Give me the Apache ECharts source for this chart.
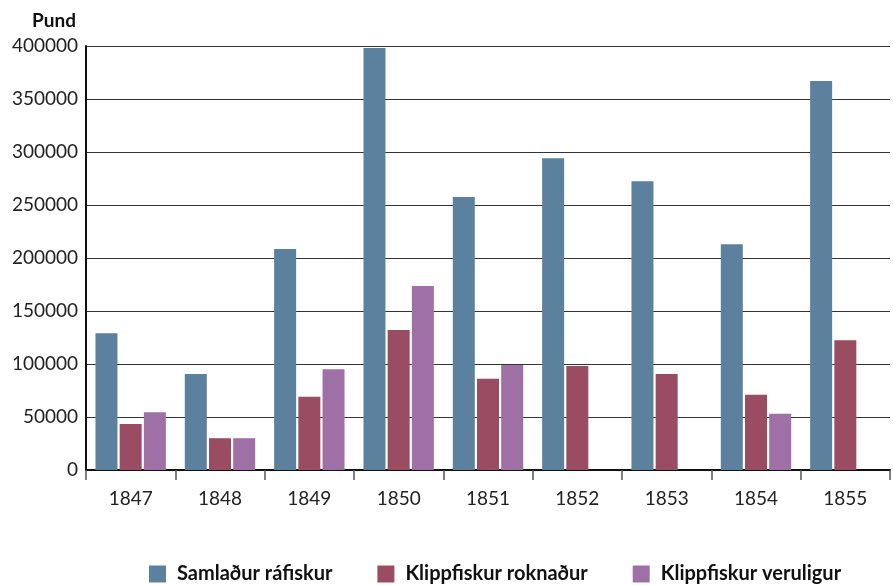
<!DOCTYPE html>
<html>
<head>
<meta charset="utf-8">
<script src="https://cdn.jsdelivr.net/npm/echarts@6/dist/echarts.min.js"></script>
<style>
  html, body { margin: 0; padding: 0; background: #fff; }
  #chart { width: 893px; height: 585px; }
</style>
</head>
<body>
<div id="chart"></div>
<script>
// ár
const years = ['1847', '1848', '1849', '1850', '1851', '1852', '1853', '1854', '1855']
// pund
const samladur = [129000, 90500, 208500, 398000, 257500, 294000, 272500, 213000, 367000]
const roknadur = [43500, 30000, 69000, 132000, 86000, 98000, 90500, 71000, 122500]
const veruligur = [54500, 30000, 95000, 173500, 99000, 0, 0, 53000, 0]
const seriesNames = ['Samlaður ráfiskur', 'Klippfiskur roknaður', 'Klippfiskur veruligur']
const colors = ['#5c819e', '#994c62', '#9f70a5']

const font = 'Lato, "Open Sans", sans-serif'
const chart = echarts.init(document.getElementById('chart'))

chart.setOption({
  animation: false,
  textStyle: {fontFamily: font},
  color: colors,
  grid: {left: 86, right: 3, top: 46, bottom: 115, containLabel: false},
  legend: {
    top: 559,
    left: 144,
    itemWidth: 17,
    itemHeight: 17,
    itemGap: 45,
    icon: 'rect',
    textStyle: {fontSize: 20, fontWeight: 'bold', color: '#111', fontFamily: font, padding: [0, 0, 0, 6]},
    data: seriesNames
  },
  xAxis: {
    type: 'category',
    data: years,
    axisLine: {lineStyle: {color: '#111', width: 2}},
    axisTick: {show: true, length: 10, lineStyle: {color: '#555', width: 1.5}},
    axisLabel: {fontSize: 19, color: '#222', margin: 19}
  },
  yAxis: {
    type: 'value',
    min: 0,
    max: 400000,
    interval: 50000,
    name: 'Pund',
    nameLocation: 'end',
    nameGap: 16,
    nameTextStyle: {fontSize: 19, fontWeight: 'bold', color: '#111', align: 'right', padding: [0, 10, 0, 0]},
    axisLine: {show: true, lineStyle: {color: '#111', width: 2}},
    axisTick: {show: false},
    axisLabel: {fontSize: 19, color: '#222', margin: 8, formatter: v => String(v)},
    splitLine: {lineStyle: {color: '#333', width: 1.2}}
  },
  series: [
    {name: seriesNames[0], type: 'bar', data: samladur, barWidth: 22, barGap: '10%'},
    {name: seriesNames[1], type: 'bar', data: roknadur, barWidth: 22, barGap: '10%'},
    {name: seriesNames[2], type: 'bar', data: veruligur, barWidth: 22, barGap: '10%'}
  ]
})
</script>
</body>
</html>
